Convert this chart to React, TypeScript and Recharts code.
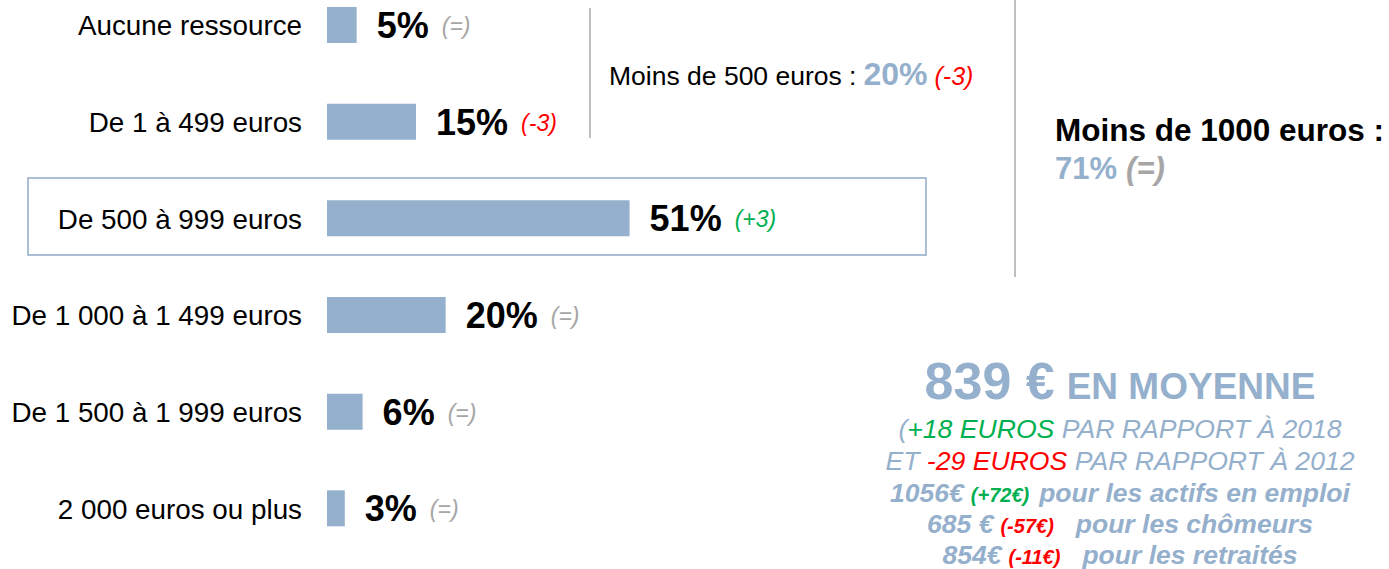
import { BarChart, Bar, XAxis, YAxis, LabelList } from "recharts";

// Revenus mensuels : répartition par tranche, avec l'évolution en points.

const categories = [
  "Aucune ressource",
  "De 1 à 499 euros",
  "De 500 à 999 euros",
  "De 1 000 à 1 499 euros",
  "De 1 500 à 1 999 euros",
  "2 000 euros ou plus",
];
const shares = [5, 15, 51, 20, 6, 3];
const changes = ["=", "-3", "+3", "=", "=", "="];

const under500 = { share: 20, change: "-3" };
const under1000 = { share: 71, change: "=" };
const average = { value: 839, vs2018: "+18", vs2012: "-29" };
const groups = ["pour les actifs en emploi", "pour les chômeurs", "pour les retraités"];
const groupValues = ["1056€", "685 €", "854€"];
const groupChanges = ["+72€", "-57€", "-11€"];

const rows = categories.map((label, i) => ({ label, share: shares[i] }));

const FONT = '"Liberation Sans", Arial, Helvetica, sans-serif';
const BLUE = "#95B0CC";
const GREEN = "#00B050";
const RED = "#FF0000";
const GREY = "#A6A6A6";

const changeColor = (c: string) => (c.startsWith("+") ? GREEN : c.startsWith("-") ? RED : GREY);

function ShareLabel(props: any) {
  const { x, y, width, height, index } = props;
  const lx = Number(x) + Number(width) + 20;
  const ly = Number(y) + Number(height) / 2 + 13;
  return (
    <text x={lx} y={ly} fontFamily={FONT}>
      <tspan fontSize={36} fontWeight="bold" fill="#000">{shares[index]}%</tspan>
      <tspan dx={13} dy={-4} fontSize={23} fontStyle="italic" fill={changeColor(changes[index])}>
        ({changes[index]})
      </tspan>
    </text>
  );
}

function Notes() {
  const cx = 1120;
  return (
    <svg width={1389} height={569} style={{ position: "absolute", left: 0, top: 0, pointerEvents: "none" }}>
      <line x1={590} y1={8} x2={590} y2={138} stroke="#BFBFBF" strokeWidth={2} />
      <line x1={1015} y1={0} x2={1015} y2={277} stroke="#BFBFBF" strokeWidth={2} />
      <rect x={28} y={178} width={898} height={77} fill="none" stroke="#8FA9C8" strokeWidth={1.5} />

      <text x={609} y={85} fontFamily={FONT} fontSize={26.5} fill="#000">
        Moins de 500 euros :
        <tspan dx={7} fontSize={32} fontWeight="bold" fill={BLUE}>{under500.share}%</tspan>
        <tspan dx={7} fontSize={25} fontStyle="italic" fill={changeColor(under500.change)}>({under500.change})</tspan>
      </text>

      <text x={1055} y={141} fontFamily={FONT} fontSize={31.5} fontWeight="bold" fill="#000">
        Moins de 1000 euros :
      </text>
      <text x={1055} y={179} fontFamily={FONT} fontSize={31} fontWeight="bold" fill={BLUE}>
        {under1000.share}%
        <tspan dx={9} fontStyle="italic" fill={GREY}>({under1000.change})</tspan>
      </text>

      <text x={cx} y={399} textAnchor="middle" fontFamily={FONT} fontWeight="bold" fill={BLUE}>
        <tspan fontSize={52}>{average.value} €</tspan>
        <tspan dx={12} fontSize={37}>EN MOYENNE</tspan>
      </text>
      <text x={cx} y={438} textAnchor="middle" fontFamily={FONT} fontSize={26.6} fontStyle="italic" fill={BLUE}>
        (<tspan fill={GREEN}>{average.vs2018} EUROS</tspan> PAR RAPPORT À 2018
      </text>
      <text x={cx} y={470} textAnchor="middle" fontFamily={FONT} fontSize={26.6} fontStyle="italic" fill={BLUE}>
        ET <tspan fill={RED}>{average.vs2012} EUROS</tspan> PAR RAPPORT À 2012
      </text>
      {groups.map((g, i) => (
        <text key={g} x={cx} y={502 + i * 31} textAnchor="middle" fontFamily={FONT} fontSize={26.5}
          fontStyle="italic" fontWeight="bold" fill={BLUE}>
          {groupValues[i]}
          <tspan dx={7} fontSize={20} fill={changeColor(groupChanges[i])}>({groupChanges[i]})</tspan>
          <tspan dx={i === 0 ? 10 : 22}>{g}</tspan>
        </text>
      ))}
    </svg>
  );
}

export default function App() {
  return (
    <div style={{ position: "absolute", left: 0, top: 0, width: 1389, height: 569, overflow: "hidden", background: "#fff" }}>
      <div style={{ position: "absolute", left: 0, top: -23 }}>
        <BarChart width={1389} height={592} data={rows} layout="vertical"
          margin={{ top: 0, right: 0, bottom: 12, left: 0 }}>
          <XAxis type="number" domain={[0, 179]} hide />
          <YAxis type="category" dataKey="label" width={327} axisLine={false} tickLine={false}
            tickSize={0} tickMargin={25} interval={0}
            tick={{ fontSize: 27.8, fill: "#000", fontFamily: FONT }} />
          <Bar dataKey="share" fill={BLUE} barSize={36} isAnimationActive={false}>
            <LabelList dataKey="share" content={ShareLabel} />
          </Bar>
        </BarChart>
      </div>
      <Notes />
    </div>
  );
}
